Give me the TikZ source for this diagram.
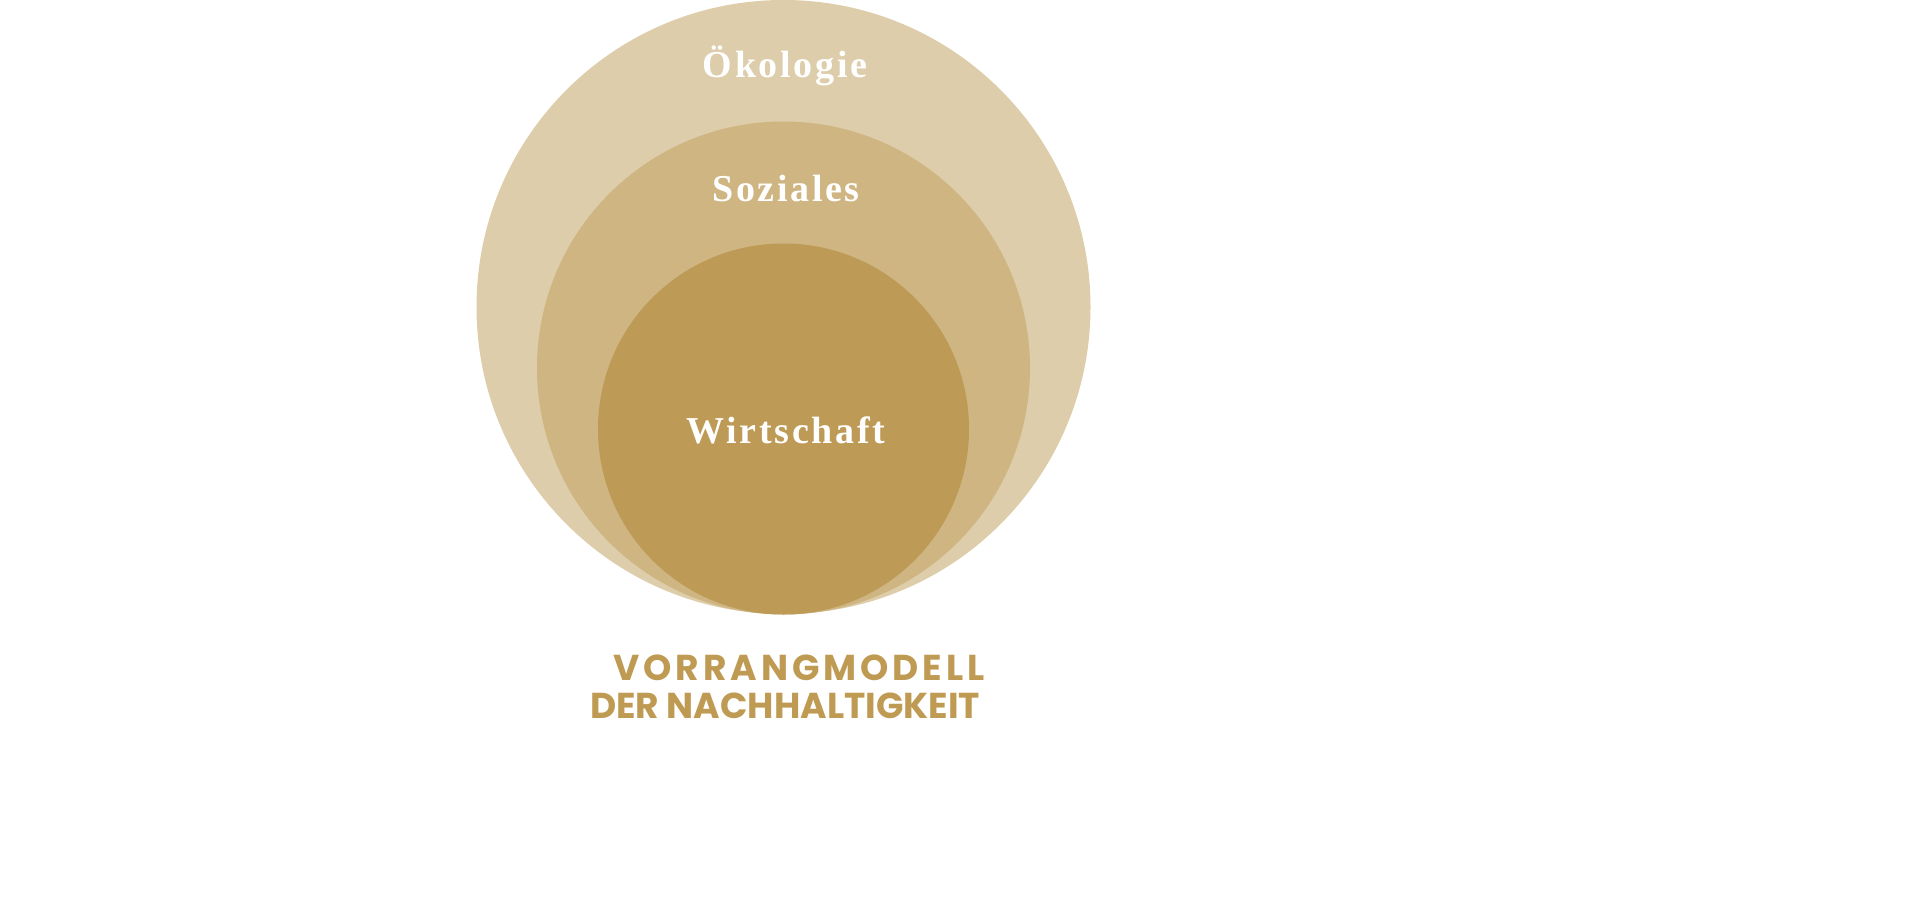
\documentclass[tikz,border=0pt]{standalone}
\usepackage{fontspec}
\setmainfont{Liberation Serif}
\newfontfamily\lblfont[LetterSpace=7]{Liberation Serif}
\newfontfamily\titlefont{Poppins}
\newfontfamily\titlefontA[LetterSpace=11]{Poppins}
\definecolor{outerc}{HTML}{DDCDAA}
\definecolor{midc}{HTML}{CFB582}
\definecolor{innerc}{HTML}{BD9A55}
\definecolor{goldtxt}{HTML}{BE9A52}
\tikzset{
  lbl/.style={text=white, font=\lblfont\bfseries\fontsize{38}{42}\selectfont, inner sep=0pt, anchor=base},
  ttl/.style={text=goldtxt, font=\titlefont\bfseries\fontsize{36}{38}\selectfont, inner sep=0pt, anchor=base},
  ttla/.style={text=goldtxt, font=\titlefontA\bfseries\fontsize{36}{38}\selectfont, inner sep=0pt, anchor=base}
}
\begin{document}
\begin{tikzpicture}[x=1pt,y=-1pt]
\useasboundingbox (0,0) rectangle (1920,905);
\fill[outerc] (783.5,307) circle (307);
\fill[midc] (783.5,368) circle (246.5);
\fill[innerc] (783.5,429) circle (185.5);
\node[lbl] (oek) at (785,77) {Ökologie};
\node[lbl] (soz) at (786,201) {Soziales};
\node[lbl] (wir) at (786,443) {Wirtschaft};
\node[ttla] (t1) at (799,680) {VORRANGMODELL};
\node[ttl] (t2) at (785,718) {DER NACHHALTIGKEIT};
\end{tikzpicture}
\end{document}
